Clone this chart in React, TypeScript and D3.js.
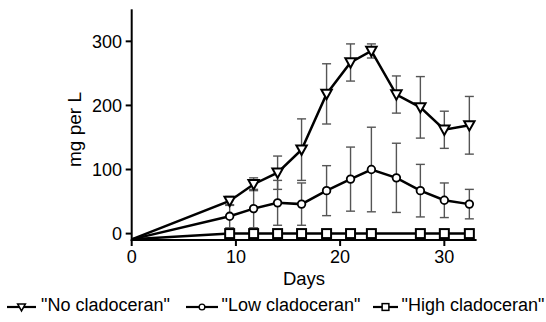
import React from "react";
import * as d3 from "d3";

const days = [0, 9.4, 11.7, 14, 16.3, 18.7, 21, 23, 25.4, 27.7, 30, 32.4];
const noClad = [-9, 51, 77, 95, 131, 218, 267, 285, 217, 197, 162, 169];
const noCladErr = [0, 7, 10, 26, 48, 47, 29, 11, 29, 48, 29, 45];
const lowClad = [-9, 27, 39, 48, 46, 67, 85, 100, 87, 67, 52, 46];
const lowCladErr = [0, 18, 30, 35, 33, 39, 50, 66, 54, 41, 27, 23];
const highClad = [-9, 0, 0, 0, 0, 0, 0, 0, 0, 0, 0, 0];
const highMarker = [false, true, true, true, true, true, true, true, false, true, true, true];
const xTicks = [0, 10, 20, 30];
const yTicks = [0, 100, 200, 300];
const legendLabels = ['"No cladoceran"', '"Low cladoceran"', '"High cladoceran"'];

const W = 546;
const H = 322;
const left = 131.7;
const right = 475.6;
const top = 9.3;
const bottom = 240;
const font = "Liberation Sans, Arial, sans-serif";

function Marker({ kind, x, y }: { kind: number; x: number; y: number }) {
  if (kind === 0) {
    const s = 5.2;
    return (
      <path
        d={`M${x - s},${y - s * 0.8} L${x + s},${y - s * 0.8} L${x},${y + s * 1.0} Z`}
        fill="white"
        stroke="black"
        strokeWidth={2}
      />
    );
  }
  if (kind === 1) {
    return <circle cx={x} cy={y} r={3.8} fill="white" stroke="black" strokeWidth={1.8} />;
  }
  return <rect x={x - 4.5} y={y - 4.5} width={9} height={9} fill="white" stroke="black" strokeWidth={2} />;
}

export default function App() {
  const x = d3.scaleLinear().domain([0, 33]).range([left, right]);
  const y = d3.scaleLinear().domain([-10, 350]).range([bottom, top]);
  const line = d3
    .line<[number, number]>()
    .x((d) => x(d[0]))
    .y((d) => y(d[1]));

  const series = [
    { vals: noClad, err: noCladErr, kind: 0 },
    { vals: lowClad, err: lowCladErr, kind: 1 },
    { vals: highClad, err: null as number[] | null, kind: 2 },
  ];

  const legendPos = [
    { lx: 7, tx: 41 },
    { lx: 186, tx: 221.5 },
    { lx: 373, tx: 401.5 },
  ];
  const legendLen = [29, 32, 25];
  const ly = 307;

  return (
    <svg width={W} height={H} style={{ position: "absolute", left: 0, top: 0 }}>
      <rect width={W} height={H} fill="white" />
      {series.map((s, si) =>
        s.err
          ? days.map((d, i) =>
              i === 0 ? null : (
                <g key={`e${si}-${i}`} stroke="#555" strokeWidth={1.4}>
                  <line x1={x(d)} x2={x(d)} y1={y(s.vals[i] + s.err![i])} y2={y(s.vals[i] - s.err![i])} />
                  <line x1={x(d) - 4.5} x2={x(d) + 4.5} y1={y(s.vals[i] + s.err![i])} y2={y(s.vals[i] + s.err![i])} />
                  <line x1={x(d) - 4.5} x2={x(d) + 4.5} y1={y(s.vals[i] - s.err![i])} y2={y(s.vals[i] - s.err![i])} />
                </g>
              )
            )
          : null
      )}
      {series.map((s, si) => (
        <path
          key={`l${si}`}
          d={line(days.map((d, i) => [d, s.vals[i]] as [number, number])) || ""}
          fill="none"
          stroke="black"
          strokeWidth={2.5}
        />
      ))}
      <line x1={left} x2={left} y1={top} y2={bottom + 1} stroke="black" strokeWidth={2} />
      <line x1={left - 1} x2={right + 1} y1={bottom} y2={bottom} stroke="black" strokeWidth={2} />
      {yTicks.map((t) => (
        <g key={`y${t}`}>
          <line x1={left - 6} x2={left} y1={y(t)} y2={y(t)} stroke="black" strokeWidth={2} />
          <text x={122} y={y(t)} dy="0.36em" textAnchor="end" fontSize={18} fontFamily={font}>
            {t}
          </text>
        </g>
      ))}
      {xTicks.map((t) => (
        <g key={`x${t}`}>
          <line x1={x(t)} x2={x(t)} y1={bottom} y2={bottom + 6} stroke="black" strokeWidth={2} />
          <text x={x(t)} y={bottom + 23} textAnchor="middle" fontSize={18} fontFamily={font}>
            {t}
          </text>
        </g>
      ))}
      <text x={304} y={285.3} textAnchor="middle" fontSize={18.5} fontFamily={font}>
        Days
      </text>
      <text
        transform={`translate(81,129.5) rotate(-90)`}
        textAnchor="middle"
        fontSize={19}
        fontFamily={font}
      >
        mg per L
      </text>
      {series.map((s, si) =>
        days.map((d, i) =>
          i === 0 || (si === 2 && !highMarker[i]) ? null : (
            <Marker key={`m${si}-${i}`} kind={s.kind} x={x(d)} y={y(s.vals[i])} />
          )
        )
      )}
      {legendLabels.map((lab, i) => {
        const cx = legendPos[i].lx + legendLen[i] / 2;
        return (
          <g key={`lg${i}`}>
            <line x1={legendPos[i].lx} x2={legendPos[i].lx + legendLen[i]} y1={ly} y2={ly} stroke="black" strokeWidth={2.2} />
            <g transform={`translate(${cx},${ly}) scale(0.75) translate(${-cx},${-ly})`}>
              <Marker kind={i} x={cx} y={ly} />
            </g>
            <text x={legendPos[i].tx} y={310.5} fontSize={18} fontFamily={font}>
              {lab}
            </text>
          </g>
        );
      })}
    </svg>
  );
}
